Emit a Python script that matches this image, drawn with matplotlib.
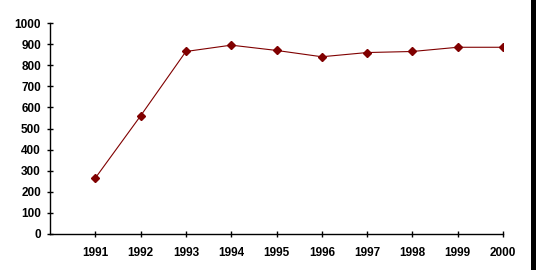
import matplotlib
matplotlib.use("Agg")
import matplotlib.pyplot as plt
from matplotlib.patches import Rectangle

years = [1991, 1992, 1993, 1994, 1995, 1996, 1997, 1998, 1999, 2000]
values = [265, 560, 865, 895, 870, 840, 860, 865, 885, 885]
yticks = [0, 100, 200, 300, 400, 500, 600, 700, 800, 900, 1000]

W, H = 536, 275
fig = plt.figure(figsize=(W / 100, H / 100), dpi=100)
fig.patch.set_facecolor("white")
ax = fig.add_axes([50 / W, (H - 234) / H, (503 - 50) / W, (234 - 23) / H])

color = "#800000"
ax.plot(years, values, color=color, lw=0.8, marker="D", ms=4.2,
        markerfacecolor=color, markeredgecolor=color)

ax.set_xlim(1990, 2000)
ax.set_ylim(0, 1000)
ax.set_xticks(years)
ax.set_xticklabels([str(y) for y in years])
ax.set_yticks(yticks)
ax.set_yticklabels([str(v) for v in yticks])

for s in ["top", "right"]:
    ax.spines[s].set_visible(False)
for s in ["left", "bottom"]:
    ax.spines[s].set_linewidth(1.0)
    ax.spines[s].set_color("black")

ax.tick_params(direction="inout", length=5, width=1.0, colors="black", pad=4)
for lab in ax.get_xticklabels() + ax.get_yticklabels():
    lab.set_fontfamily("Liberation Sans")
    lab.set_fontweight("bold")
    lab.set_fontsize(8.5)
ax.tick_params(axis="x", pad=7)

fig.patches.append(Rectangle((531 / W, (H - 270) / H), 1 - 531 / W, 270 / H,
                             transform=fig.transFigure, facecolor="black",
                             edgecolor="none"))

fig.savefig("out.png", dpi=100, facecolor="white")
